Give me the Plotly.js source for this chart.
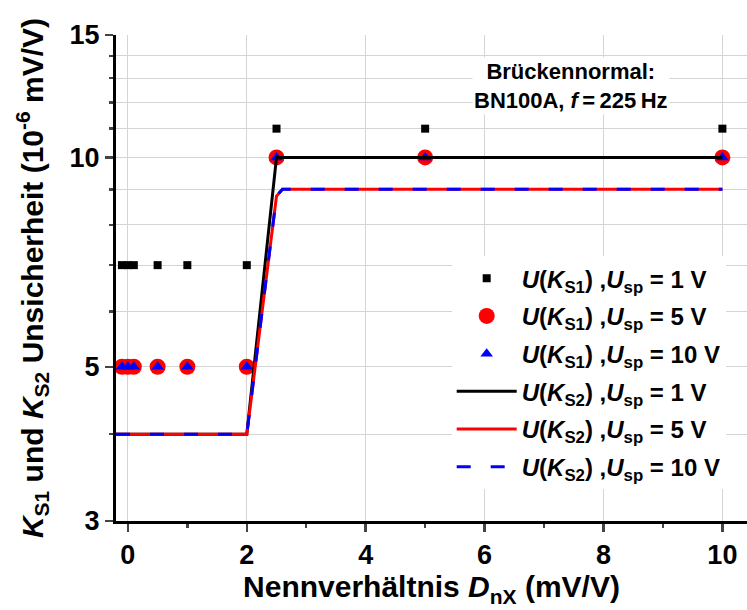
<!DOCTYPE html>
<html>
<head>
<meta charset="utf-8">
<script src="https://cdn.plot.ly/plotly-3.0.1.min.js"></script>
<style>html,body{margin:0;padding:0;background:#fff;}#chart{width:747px;height:610px;}</style>
</head>
<body>
<div id="chart"></div>
<script>
// Nennverhältnis D_nX (mV/V) for the K_S1 measurements
const xKS1 = [-0.1, 0, 0.1, 0.5, 1, 2, 2.5, 5, 10];
const yKS1_1V = [7, 7, 7, 7, 7, 7, 11, 11, 11];
const yKS1_5V = [5, 5, 5, 5, 5, 5, 10, 10, 10];
const yKS1_10V = [5, 5, 5, 5, 5, 5, 10, 10, 10];
// K_S2 curves
const xKS2_1V = [-0.2, 2, 2.5, 10];
const yKS2_1V = [4, 4, 10, 10];
const xKS2_5V = [-0.2, 2, 2.5, 2.6, 10];
const yKS2_5V = [4, 4, 8.8, 9.0, 9.0];
const xKS2_10V = [-0.2, 2, 2.5, 2.6, 10];
const yKS2_10V = [4, 4, 8.8, 9.0, 9.0];
const yTicks = [3, 5, 10, 15];
const yMinor = [4, 6, 7, 8, 9, 11, 12, 13, 14];
const xTicks = [0, 2, 4, 6, 8, 10];

const lbl = (k, u) => `<i>U</i>(<i>K</i><sub>${k}</sub>) ,<i>U</i><sub>sp</sub> = ${u} V`;
const FONT = '"Liberation Sans", Arial, sans-serif';

const traces = [
  {x: xKS1, y: yKS1_1V, mode: 'markers', name: lbl('S1', 1), legendgroup: 'a',
   marker: {symbol: 'square', size: 8, color: '#000'}},
  {x: xKS1, y: yKS1_5V, mode: 'markers', name: lbl('S1', 5), legendgroup: 'b',
   marker: {symbol: 'circle', size: 16, color: '#ff0000'}},
  {x: xKS1, y: yKS1_10V, mode: 'markers', name: lbl('S1', 10), legendgroup: 'c',
   marker: {symbol: 'triangle-up', size: 11, color: '#0000ff'}},
  {x: xKS2_1V, y: yKS2_1V, mode: 'lines', name: lbl('S2', 1), legendgroup: 'd',
   line: {color: '#000', width: 3}},
  {x: xKS2_5V, y: yKS2_5V, mode: 'lines', name: lbl('S2', 5), legendgroup: 'e',
   line: {color: '#ff0000', width: 3}},
  {x: xKS2_10V, y: yKS2_10V, mode: 'lines', name: lbl('S2', 10), legendgroup: 'f',
   line: {color: '#0000ff', width: 3, dash: '14px,20px'}}
];

const layout = {
  width: 747, height: 610,
  margin: {l: 116, r: 0, t: 35, b: 89, autoexpand: false},
  paper_bgcolor: '#fff', plot_bgcolor: '#fff',
  font: {family: FONT, color: '#000', size: 22, weight: 'bold'},
  showlegend: true,
  legend: {x: 0.532, y: 0.545, xanchor: 'left', yanchor: 'top', bgcolor: '#fff',
           borderwidth: 0, font: {size: 24, family: FONT, weight: 'bold'},
           itemwidth: 60, traceorder: 'grouped', tracegroupgap: 3.5},
  xaxis: {
    range: [-0.2, 10.414], tickvals: xTicks, ticks: 'outside', ticklen: 8, tickwidth: 2.5,
    showline: true, linewidth: 3, linecolor: '#000', mirror: false, zeroline: false,
    showgrid: true, gridcolor: '#d4d4d4', gridwidth: 1,
    tickfont: {size: 27, family: FONT, weight: 'bold'},
    minor: {dtick: 1, tick0: 0, ticks: 'outside', ticklen: 4, tickwidth: 2.5, showgrid: false},
    title: {text: 'Nennverhältnis <i>D</i><sub>nX</sub> (mV/V)', font: {size: 30, family: FONT, weight: 'bold'}, standoff: 4}
  },
  xaxis2: {
    overlaying: 'x', side: 'top', anchor: 'y', matches: 'x', range: [-0.2, 10.414],
    tickvals: xTicks, ticks: 'inside', ticklen: 9, tickwidth: 2.5, showticklabels: false,
    minor: {dtick: 1, tick0: 0, ticks: 'inside', ticklen: 8, tickwidth: 2.5, showgrid: false},
    showline: true, linewidth: 3, linecolor: '#000', showgrid: false, zeroline: false
  },
  yaxis: {
    type: 'log', range: [Math.log10(3), Math.log10(15)],
    tickvals: yTicks, ticktext: yTicks.map(String), ticks: 'outside', ticklen: 8, tickwidth: 2.5,
    showline: true, linewidth: 3, linecolor: '#000', mirror: false, zeroline: false,
    showgrid: true, gridcolor: '#d4d4d4', gridwidth: 1,
    tickfont: {size: 27, family: FONT, weight: 'bold'},
    minor: {tickvals: yMinor, ticks: 'outside', ticklen: 4, tickwidth: 2.5, showgrid: true, gridcolor: '#d4d4d4', gridwidth: 1},
    title: {text: '<i>K</i><sub>S1</sub> und <i>K</i><sub>S2</sub> Unsicherheit (10<sup>-6</sup> mV/V)', font: {size: 30, family: FONT, weight: 'bold'}, standoff: 18}
  },
  annotations: [{
    xref: 'paper', yref: 'paper', x: 0.721, y: 0.895, xanchor: 'center', yanchor: 'middle',
    text: 'Brückennormal:<br>BN100A, <i>f</i>\u2009=\u2009225\u2009Hz', showarrow: false,
    bgcolor: '#fff', font: {size: 22, family: FONT, weight: 'bold', color: '#000'}, align: 'center'
  }]
};

Plotly.newPlot('chart', traces, layout, {displayModeBar: false, staticPlot: true});
</script>
</body>
</html>
